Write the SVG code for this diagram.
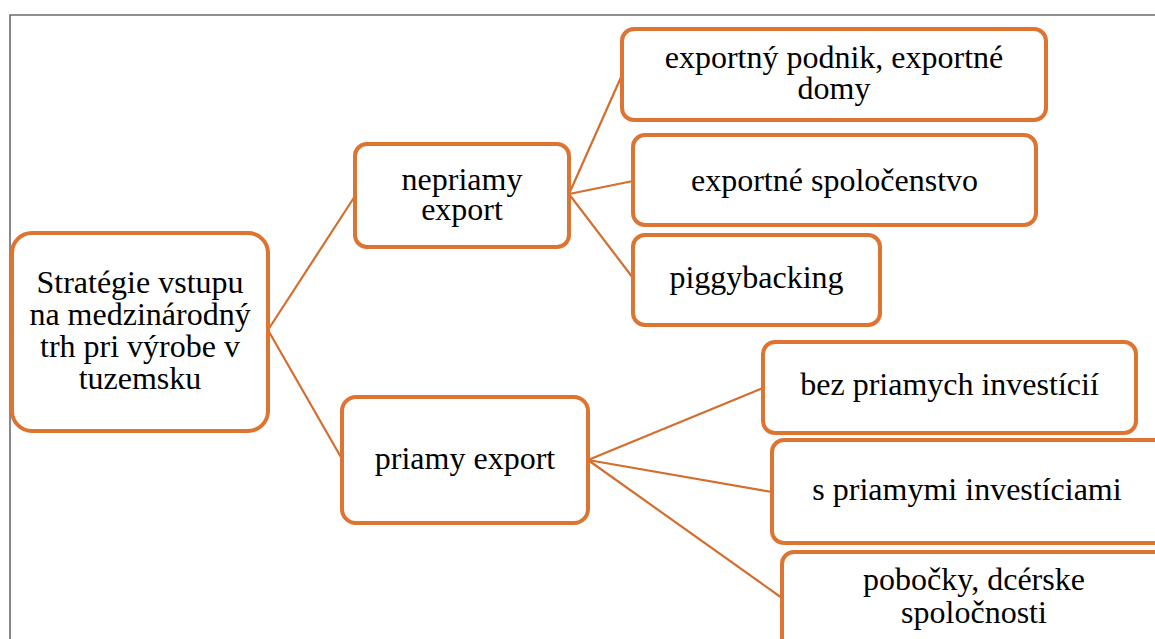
<svg xmlns="http://www.w3.org/2000/svg" width="1155" height="639" viewBox="0 0 1155 639">
<style>
.box{fill:#ffffff;stroke:#DE7431;stroke-width:4}
.t{font-family:"Liberation Serif","Times New Roman",serif;font-size:32px;fill:#000;text-anchor:middle}
.c{stroke:#D46E2E;stroke-width:2.2;fill:none}
.frame{stroke:#6b6b6b;stroke-width:1.6;fill:none}
</style>
<rect width="1155" height="639" fill="#ffffff"/>
<path class="frame" d="M10,639 V15 H1155"/>
<g id="connectors">
<line class="c" x1="268" y1="330" x2="355" y2="196"/>
<line class="c" x1="268" y1="330" x2="342" y2="459"/>
<line class="c" x1="569" y1="194" x2="622" y2="75"/>
<line class="c" x1="569" y1="194" x2="633" y2="181"/>
<line class="c" x1="569" y1="194" x2="633" y2="278"/>
<line class="c" x1="588" y1="460" x2="763" y2="388"/>
<line class="c" x1="588" y1="460" x2="772" y2="492"/>
<line class="c" x1="588" y1="460" x2="782" y2="598"/>
</g>
<g id="root">
<rect class="box" x="12" y="233" width="256" height="198" rx="20"/>
<text class="t" x="140" y="293">Stratégie vstupu</text>
<text class="t" x="140" y="325">na medzinárodný</text>
<text class="t" x="140" y="357">trh pri výrobe v</text>
<text class="t" x="140" y="389">tuzemsku</text>
</g>
<g id="nepriamy">
<rect class="box" x="355" y="144" width="214" height="103" rx="12"/>
<text class="t" x="462" y="190">nepriamy</text>
<text class="t" x="462" y="220">export</text>
</g>
<g id="priamy">
<rect class="box" x="342" y="397" width="246" height="126" rx="14"/>
<text class="t" x="465" y="469">priamy export</text>
</g>
<g id="exportny-podnik">
<rect class="box" x="622" y="29" width="424" height="91" rx="12"/>
<text class="t" x="834" y="68">exportný podnik, exportné</text>
<text class="t" x="834" y="99">domy</text>
</g>
<g id="exportne-spolocenstvo">
<rect class="box" x="633" y="135" width="403" height="90" rx="12"/>
<text class="t" x="834.5" y="191">exportné spoločenstvo</text>
</g>
<g id="piggybacking">
<rect class="box" x="633" y="235" width="247" height="90" rx="12"/>
<text class="t" x="756.5" y="288">piggybacking</text>
</g>
<g id="bez-priamych">
<rect class="box" x="763" y="342" width="373" height="91" rx="12"/>
<text class="t" x="949.5" y="395">bez priamych investícií</text>
</g>
<g id="s-priamymi">
<rect class="box" x="772" y="440" width="400" height="103" rx="12"/>
<text class="t" x="967" y="500">s priamymi investíciami</text>
</g>
<g id="pobocky">
<rect class="box" x="782" y="552" width="400" height="110" rx="12"/>
<text class="t" x="974" y="590">pobočky, dcérske</text>
<text class="t" x="974" y="623">spoločnosti</text>
</g>
</svg>
